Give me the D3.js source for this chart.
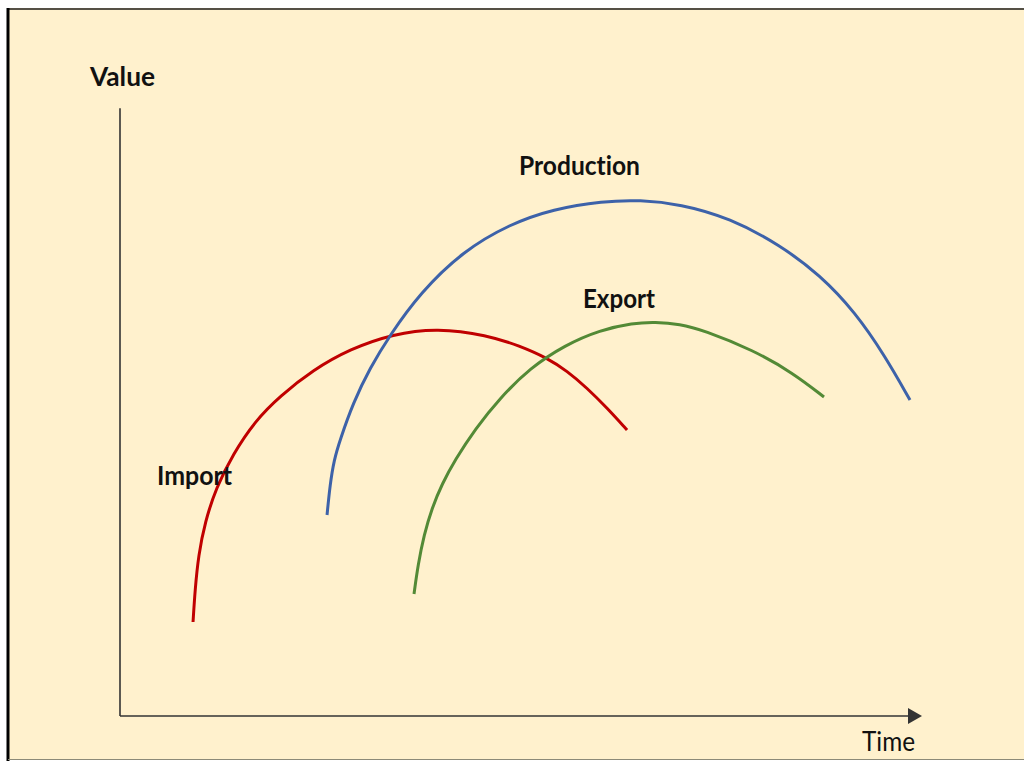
<!DOCTYPE html>
<html>
<head>
<meta charset="utf-8">
<script src="https://cdn.jsdelivr.net/npm/d3@7"></script>
<style>
  html, body { margin: 0; padding: 0; background: #ffffff; }
  svg { display: block; }
  text { font-family: Lato, "Noto Sans", sans-serif; fill: #111; font-variant-ligatures: none; }
</style>
</head>
<body>
<svg id="chart" width="1024" height="761"></svg>
<script>
// Life-cycle curves: time (0–100) against value (0–100)
const importTime   = [9.13, 9.38, 9.81, 10.63, 12.0, 14.13, 16.88, 20.0, 24.13, 28.75, 34.13, 39.63, 45.88, 50.0, 53.38, 55.88, 58.38, 60.88, 63.38];
const importValue  = [15.67, 21.0, 26.83, 32.33, 38.0, 43.67, 49.17, 53.33, 57.67, 61.17, 63.67, 64.67, 63.5, 61.67, 59.67, 57.5, 54.67, 51.33, 47.67];

const productionTime  = [25.88, 26.25, 26.75, 27.5, 29.13, 31.25, 33.75, 37.5, 42.88, 48.75, 54.13, 60.38, 65.0, 70.0, 76.25, 82.5, 87.5, 91.88, 95.63, 98.75];
const productionValue = [33.5, 38.5, 42.67, 46.0, 52.17, 58.0, 63.5, 70.5, 77.5, 82.0, 84.5, 85.83, 86.0, 85.33, 83.0, 78.5, 73.5, 67.33, 60.0, 52.67];

const exportTime   = [36.75, 37.25, 38.0, 39.0, 40.25, 41.88, 44.38, 47.5, 51.25, 55.63, 60.0, 64.13, 66.88, 70.0, 72.88, 79.13, 84.13, 88.0];
const exportValue  = [20.33, 25.17, 30.17, 34.67, 38.67, 42.67, 47.83, 53.0, 58.0, 61.83, 64.33, 65.5, 65.67, 65.33, 64.33, 61.0, 57.17, 53.17];

const seriesNames  = ["Import", "Production", "Export"];
const axisLabels   = ["Value", "Time"];
const timeMax  = 100.25;   // end of the time arrow
const valueMax = 101.3;    // top of the value axis

const svg = d3.select("#chart");

// panel background and frame
svg.append("rect").attr("x", 8).attr("y", 8).attr("width", 1016).attr("height", 752)
  .attr("fill", "#FFF1CD");
svg.append("line").attr("x1", 8).attr("x2", 1024).attr("y1", 9).attr("y2", 9)
  .attr("stroke", "#555045").attr("stroke-width", 2);
svg.append("line").attr("x1", 8).attr("x2", 8).attr("y1", 8).attr("y2", 761)
  .attr("stroke", "#000").attr("stroke-width", 3);
svg.append("line").attr("x1", 8).attr("x2", 1024).attr("y1", 759.5).attr("y2", 759.5)
  .attr("stroke", "#8c8a78").attr("stroke-width", 1.2);

const x = d3.scaleLinear().domain([0, 100]).range([120, 920]);
const y = d3.scaleLinear().domain([0, 100]).range([716, 116]);

// axes
const axisColor = "#333";
svg.append("line")
  .attr("x1", x(0)).attr("x2", x(0)).attr("y1", y(0)).attr("y2", y(valueMax))
  .attr("stroke", axisColor).attr("stroke-width", 1.6);
svg.append("line")
  .attr("x1", x(0)).attr("x2", x(timeMax) - 12).attr("y1", y(0)).attr("y2", y(0))
  .attr("stroke", axisColor).attr("stroke-width", 1.6);
svg.append("path")
  .attr("d", d3.line()([[x(timeMax), y(0)], [x(timeMax) - 14, y(0) - 8], [x(timeMax) - 14, y(0) + 8]]) + "Z")
  .attr("fill", axisColor);

// curves, smoothed with a B-spline through the sampled points
const zipPts = (t, v) => t.map((d, i) => [d, v[i]]);
const series = [
  { name: seriesNames[0], pts: zipPts(importTime, importValue), color: "#C00000" },
  { name: seriesNames[1], pts: zipPts(productionTime, productionValue), color: "#3D62A9" },
  { name: seriesNames[2], pts: zipPts(exportTime, exportValue), color: "#538A36" }
];
const line = d3.line()
  .x(d => x(d[0])).y(d => y(d[1]))
  .curve(d3.curveBasis);

svg.selectAll("path.curve").data(series).enter().append("path")
  .attr("class", "curve")
  .attr("d", d => line(d.pts))
  .attr("fill", "none")
  .attr("stroke", d => d.color)
  .attr("stroke-width", 3);

// labels
const labels = [
  { text: axisLabels[0], x: 90,  y: 86,  w: 65,  weight: 700 },
  { text: seriesNames[1], x: 519, y: 175, w: 121, weight: 700 },
  { text: seriesNames[2], x: 583, y: 308, w: 72,  weight: 700 },
  { text: seriesNames[0], x: 157, y: 485, w: 75,  weight: 700 },
  { text: axisLabels[1], x: 862, y: 751, w: 53,  weight: 400 }
];
svg.selectAll("text.lbl").data(labels).enter().append("text")
  .attr("class", "lbl")
  .attr("x", d => d.x).attr("y", d => d.y)
  .attr("font-size", 27)
  .attr("font-weight", d => d.weight)
  .attr("textLength", d => d.w)
  .attr("lengthAdjust", "spacingAndGlyphs")
  .text(d => d.text);
</script>
</body>
</html>
